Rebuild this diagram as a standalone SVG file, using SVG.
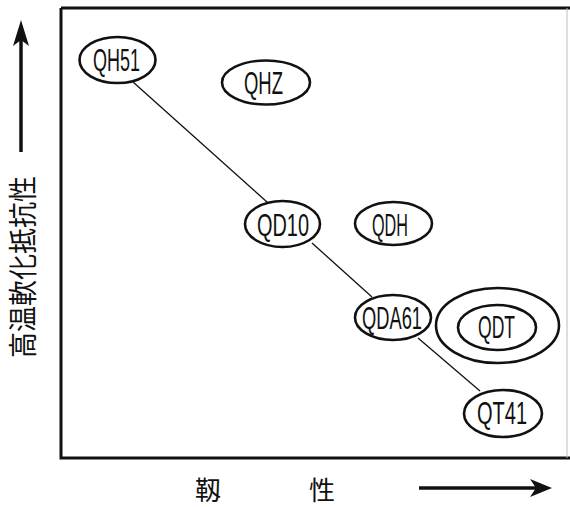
<svg xmlns="http://www.w3.org/2000/svg" width="570" height="507" viewBox="0 0 570 507">
<style>
.node ellipse{fill:#fff;stroke:#111;stroke-width:2.6}
.node text{font-family:"Liberation Sans",Arial,sans-serif;font-size:32px;fill:#111;text-anchor:middle}
.conn line{stroke:#111;stroke-width:1.3}
.axis{font-family:"Noto Sans CJK JP","Noto Sans CJK SC",sans-serif;fill:#111}
</style>
<rect x="0" y="0" width="570" height="507" fill="#fff"/>
<g id="frame">
<path d="M61,8 L570,8 M61,8 L61,458 L570,458" fill="none" stroke="#111" stroke-width="3"/>
<line x1="567" y1="8" x2="567" y2="458" stroke="#bbb" stroke-width="1"/>
</g>
<g id="connectors" class="conn">
<line x1="133" y1="82" x2="267" y2="202"/>
<line x1="312" y1="243" x2="372" y2="297"/>
<line x1="418" y1="338" x2="480" y2="391"/>
</g>
<g id="QH51" class="node"><ellipse cx="117.5" cy="60" rx="38" ry="23"/><text x="116.5" y="71" textLength="47" lengthAdjust="spacingAndGlyphs">QH51</text></g>
<g id="QHZ" class="node"><ellipse cx="266" cy="82.5" rx="44" ry="22"/><text x="263.5" y="94" textLength="39" lengthAdjust="spacingAndGlyphs">QHZ</text></g>
<g id="QD10" class="node"><ellipse cx="282.5" cy="224" rx="37.5" ry="23"/><text x="283" y="236" textLength="52" lengthAdjust="spacingAndGlyphs">QD10</text></g>
<g id="QDH" class="node"><ellipse cx="393.5" cy="223.5" rx="38.5" ry="21.5"/><text x="390" y="236" textLength="36" lengthAdjust="spacingAndGlyphs">QDH</text></g>
<g id="QDA61" class="node"><ellipse cx="393" cy="317.5" rx="38" ry="22.5"/><text x="392" y="329" textLength="60" lengthAdjust="spacingAndGlyphs">QDA61</text></g>
<g id="QDT" class="node"><ellipse cx="497.5" cy="325.5" rx="61.5" ry="37.5"/><ellipse cx="497" cy="327.5" rx="39" ry="22.5"/><text x="496.5" y="338" textLength="37" lengthAdjust="spacingAndGlyphs">QDT</text></g>
<g id="QT41" class="node"><ellipse cx="503" cy="413.5" rx="39" ry="23.5"/><text x="502" y="424" textLength="50" lengthAdjust="spacingAndGlyphs">QT41</text></g>
<g id="y-axis">
<line x1="21" y1="152" x2="21" y2="40" stroke="#111" stroke-width="3.5"/>
<polygon points="21,20 29,46 21,40 13,46" fill="#111"/>
<text class="axis" transform="translate(34,267) rotate(-90)" x="0" y="0" font-size="29" text-anchor="middle" textLength="182" lengthAdjust="spacingAndGlyphs">高温軟化抵抗性</text>
</g>
<g id="x-axis">
<line x1="419" y1="488" x2="536" y2="488" stroke="#111" stroke-width="3.5"/>
<polygon points="552,488 530,479 536,488 530,497" fill="#111"/>
<text class="axis" x="208" y="500" font-size="26" text-anchor="middle">靱</text>
<text class="axis" x="322" y="500" font-size="26" text-anchor="middle">性</text>
</g>
</svg>
